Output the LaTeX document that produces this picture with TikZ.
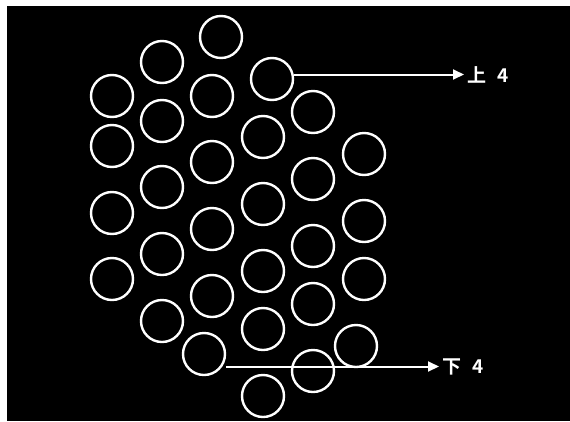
\documentclass[tikz,border=0pt]{standalone}
\usepackage{fontspec}
\newfontfamily\cjkbold{Noto Sans CJK SC Bold}
\usetikzlibrary{arrows.meta}
\begin{document}
\begin{tikzpicture}[x=1pt,y=-1pt,
  ring/.style={circle,draw=white,line width=2.4pt,minimum size=42pt,inner sep=0pt},
  conn/.style={draw=white,line width=2pt,-{Triangle[length=11pt,width=10pt]}},
  lab/.style={text=white,font=\cjkbold\fontsize{19}{19}\selectfont,anchor=west,inner sep=3.5pt}]
\useasboundingbox (0,0) rectangle (570,421);
\fill[white] (0,0) rectangle (570,421);
\fill[black] (7,6) rectangle (570,421);
% column 1
\node[ring] (c1) at (112,96) {};
\node[ring] (c2) at (112,146) {};
\node[ring] (c3) at (112,213) {};
\node[ring] (c4) at (112,279) {};
% column 2
\node[ring] (c5) at (162,62) {};
\node[ring] (c6) at (162,121) {};
\node[ring] (c7) at (162,187) {};
\node[ring] (c8) at (162,254) {};
\node[ring] (c9) at (162,321) {};
% column 3
\node[ring] (c10) at (221,37) {};
\node[ring] (c11) at (212,96) {};
\node[ring] (c12) at (212,162) {};
\node[ring] (c13) at (212,229) {};
\node[ring] (c14) at (212,296) {};
\node[ring] (c15) at (204,354) {};
% column 4
\node[ring] (c16) at (272,79) {};
\node[ring] (c17) at (263,137) {};
\node[ring] (c18) at (263,204) {};
\node[ring] (c19) at (263,271) {};
\node[ring] (c20) at (263,329) {};
\node[ring] (c21) at (263,396) {};
% column 5
\node[ring] (c22) at (313,112) {};
\node[ring] (c23) at (313,179) {};
\node[ring] (c24) at (313,246) {};
\node[ring] (c25) at (313,304) {};
\node[ring] (c26) at (313,371) {};
% column 6
\node[ring] (c27) at (364,154) {};
\node[ring] (c28) at (364,221) {};
\node[ring] (c29) at (364,279) {};
\node[ring] (c30) at (356,346) {};
% labels
\node[lab] (up) at (464,74.5) {上\hspace{11pt}4};
\node[lab] (down) at (439,366.5) {下\hspace{11pt}4};
\draw[conn] (c16.east |- up.west) -- (up.west);
\draw[conn] (c15.east |- down.west) -- (down.west);
\end{tikzpicture}
\end{document}
